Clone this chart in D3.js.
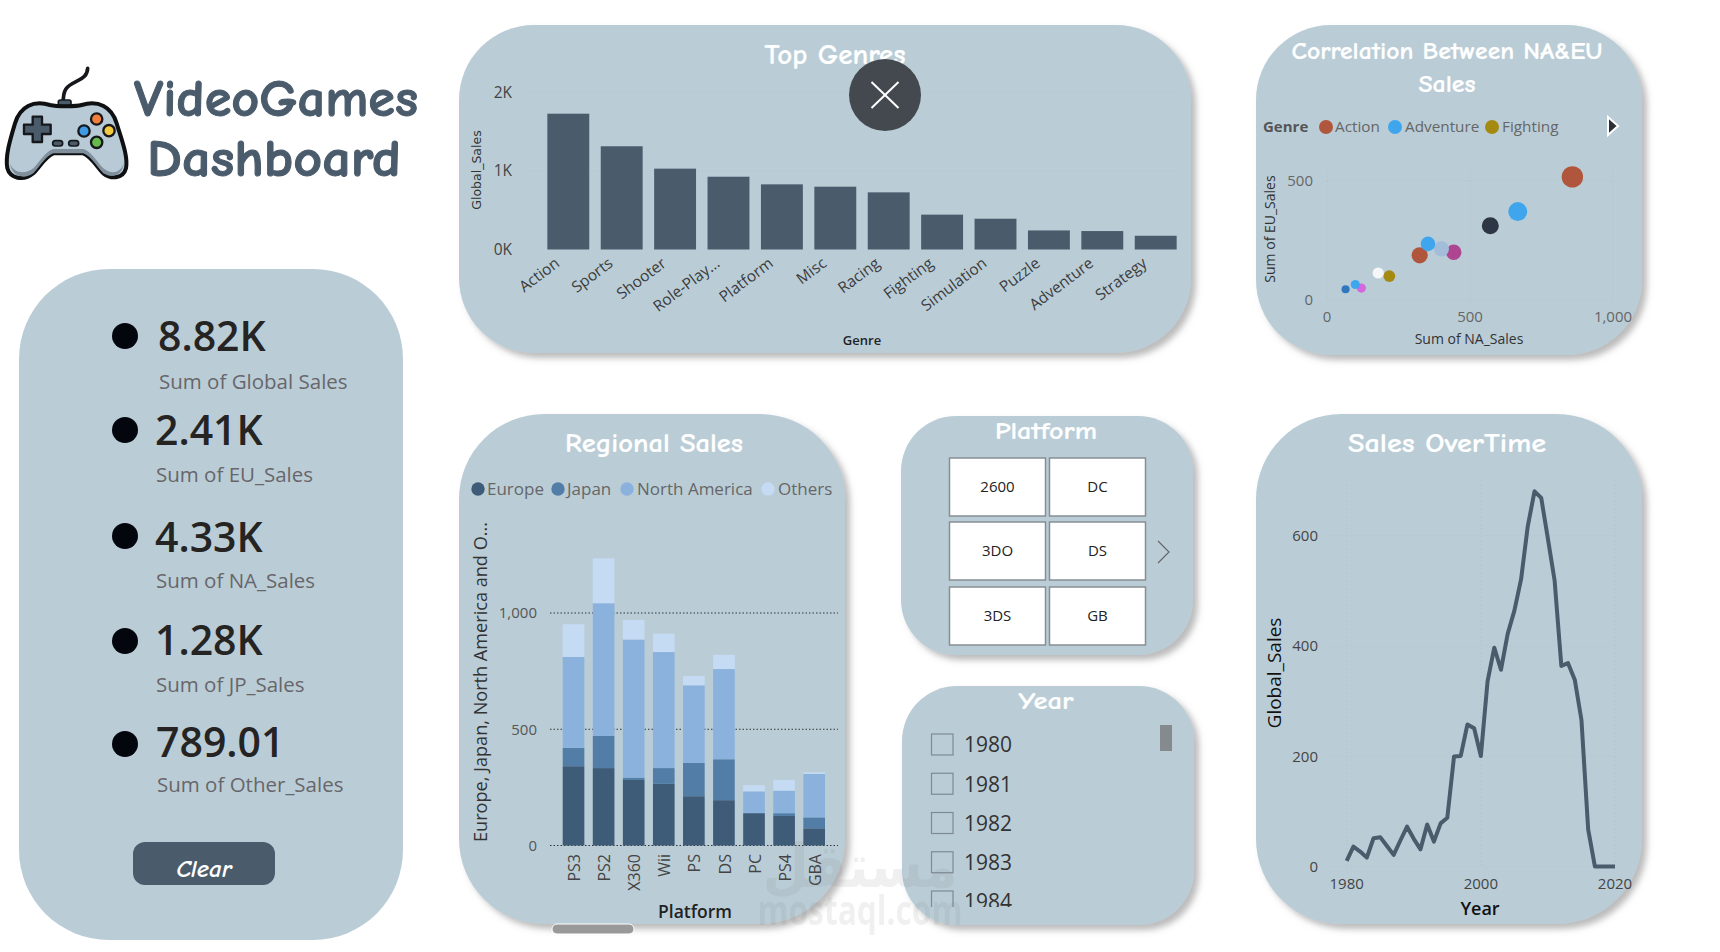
<!DOCTYPE html>
<html>
<head>
<meta charset="utf-8">
<title>VideoGames Dashboard</title>
<script src="https://cdn.jsdelivr.net/npm/d3@7"></script>
<style>
  html, body { margin: 0; padding: 0; background: #fff; overflow: hidden; }
  svg { display: block; }
  text { font-family: "Open Sans", "Noto Sans", sans-serif; }
  .hand { font-family: "Comic Sans MS", "Comic Neue", "Lato", sans-serif; font-weight: 700; }
</style>
</head>
<body>
<svg id="board" width="1720" height="952"></svg>
<script>
// KPI cards
const kpiValues = ["8.82K", "2.41K", "4.33K", "1.28K", "789.01"];
const kpiLabels = ["Sum of Global Sales", "Sum of EU_Sales", "Sum of NA_Sales", "Sum of JP_Sales", "Sum of Other_Sales"];

// Top Genres
const genres = ["Action", "Sports", "Shooter", "Role-Play...", "Platform", "Misc", "Racing", "Fighting", "Simulation", "Puzzle", "Adventure", "Strategy"];
const genreSales = [1730, 1315, 1030, 927, 830, 800, 728, 444, 392, 243, 235, 175];

// Correlation, same genre order as above
const genreNA = [858, 667, 571, 324, 443, 400, 353, 218, 179, 120, 99, 65];
const genreEU = [515, 370, 311, 187, 200, 214, 235, 100, 113, 50, 65, 45];
const genreColors = ["#b0563c", "#3fa6ee", "#2c3644", "#b0563c", "#ae4590", "#a3bcd9", "#3fa6ee", "#a58a12", "#f4f6f7", "#d468e0", "#3fa6ee", "#2f78bd"];
const bubbleLegend = ["Action", "Adventure", "Fighting"];
const bubbleLegendColors = ["#b0563c", "#3fa6ee", "#a58a12"];

// Regional Sales
const platforms = ["PS3", "PS2", "X360", "Wii", "PS", "DS", "PC", "PS4", "GBA"];
const regions = ["Europe", "Japan", "North America", "Others"];
const regionColors = ["#3e5b77", "#527da6", "#8ab2dd", "#c5dbf3"];
const europeSales = [341, 333, 282, 265, 212, 195, 139, 127, 74];
const japanSales = [79, 138, 10, 68, 143, 176, 1, 12, 47];
const northAmericaSales = [391, 571, 594, 499, 334, 388, 93, 97, 187];
const otherSales = [141, 193, 84, 79, 40, 61, 26, 46, 7];

// Slicers
const platformButtons = ["2600", "DC", "3DO", "DS", "3DS", "GB"];
const yearOptions = ["1980", "1981", "1982", "1983", "1984"];

// Sales over time
const years = d3.range(1980, 2021);
const yearSales = [11, 37, 28, 17, 52, 54, 38, 22, 48, 73, 51, 32, 77, 46, 79, 89, 200, 201, 258, 251, 201, 336, 397, 357, 422, 464, 521, 617, 680, 668, 594, 518, 364, 369, 339, 266, 68, 1, 1, 1, 1];

const panelFill = "#bacdd7";
const darkSlate = "#4a5b6c";
const faintGrid = "#aab9c4";
const svg = d3.select("#board");

const defs = svg.append("defs");
const shadow = defs.append("filter").attr("id", "shadow")
  .attr("x", "-10%").attr("y", "-10%").attr("width", "125%").attr("height", "125%");
shadow.append("feDropShadow").attr("dx", 5).attr("dy", 5).attr("stdDeviation", 3)
  .attr("flood-color", "#777").attr("flood-opacity", 0.5);

function panel(x0, y0, x1, y1, r, withShadow = true) {
  const p = svg.append("rect")
    .attr("x", x0).attr("y", y0)
    .attr("width", x1 - x0).attr("height", y1 - y0)
    .attr("rx", r).attr("ry", r)
    .attr("fill", panelFill);
  if (withShadow) p.attr("filter", "url(#shadow)");
}

function label(g, x, y, txt, size, color, anchor = "start", weight = 400) {
  return g.append("text")
    .attr("x", x).attr("y", y)
    .attr("dy", "0.35em")
    .attr("text-anchor", anchor)
    .attr("font-size", size)
    .attr("font-weight", weight)
    .attr("fill", color)
    .text(txt);
}

function title(x, y, txt, size, width) {
  return svg.append("text").attr("class", "hand")
    .attr("x", x).attr("y", y).attr("dy", "0.35em")
    .attr("text-anchor", "middle")
    .attr("font-size", size)
    .attr("fill", "#fff")
    .attr("stroke", "#fff").attr("stroke-width", 0.2)
    .attr("textLength", width).attr("lengthAdjust", "spacingAndGlyphs")
    .text(txt);
}

function rotated(g, x, y, txt, size, color, weight = 400, family = null) {
  const t = g.append("text")
    .attr("transform", `translate(${x},${y}) rotate(-90)`)
    .attr("dy", "0.35em")
    .attr("text-anchor", "middle")
    .attr("font-size", size)
    .attr("font-weight", weight)
    .attr("fill", color)
    .text(txt);
  if (family) t.style("font-family", family);
  return t;
}

panel(19, 269, 403, 940, 90, false);
panel(459, 25, 1191, 353, 75);
panel(1256, 25, 1642, 355, 75);
panel(459, 414, 845, 924, 85);
panel(901, 416, 1193, 655, 55);
panel(902, 686, 1194, 925, 55);
panel(1256, 414, 1642, 924, 85);

// ---- Logo ----
const logo = svg.append("g");
const pad = logo.append("g").attr("transform", "scale(0.3333)");
pad.append("path")
  .attr("d", "M190,310 C188,270 200,258 228,245 C250,235 262,225 263,205")
  .attr("fill", "none").attr("stroke", "#16181b").attr("stroke-width", 11).attr("stroke-linecap", "round");
pad.append("rect").attr("x", 175).attr("y", 300).attr("width", 38).attr("height", 22).attr("rx", 6)
  .attr("fill", darkSlate).attr("stroke", "#16181b").attr("stroke-width", 5);
pad.append("path")
  .attr("d", "M150,315 C100,300 60,320 45,370 C30,420 15,470 22,505 C30,535 70,545 100,520 C120,500 135,470 160,460 L250,460 C275,470 290,500 310,520 C335,540 370,535 378,505 C385,470 365,420 350,370 C335,320 295,300 245,315 C230,320 170,320 150,315 Z")
  .attr("fill", "#b7cad6").attr("stroke", "#0f1012").attr("stroke-width", 12);
pad.append("path")
  .attr("d", "M30,490 C40,520 75,525 100,505 C120,485 135,455 160,447 L250,447 C275,455 290,485 310,505 C335,525 360,520 372,490 C365,530 335,535 310,520 C290,500 275,470 250,460 L160,460 C135,470 120,500 100,520 C70,540 35,530 30,490 Z")
  .attr("fill", "#7f8f9b");
pad.append("path")
  .attr("d", "M98,350 h28 v24 h26 v28 h-26 v24 h-28 v-24 h-26 v-28 h26 Z")
  .attr("fill", darkSlate).attr("stroke", "#16181b").attr("stroke-width", 7).attr("stroke-linejoin", "round");
[[173, 430], [221, 430]].forEach(d => {
  pad.append("rect").attr("x", d[0] - 15).attr("y", d[1] - 8).attr("width", 30).attr("height", 16).attr("rx", 8)
    .attr("fill", darkSlate).attr("stroke", "#16181b").attr("stroke-width", 5);
});
[[290, 357, "#f07f3c"], [252, 393, "#3f9be3"], [327, 392, "#f3c93f"], [290, 427, "#66bb4c"]].forEach(d => {
  pad.append("circle").attr("cx", d[0]).attr("cy", d[1]).attr("r", 17)
    .attr("fill", d[2]).attr("stroke", "#16181b").attr("stroke-width", 7);
});
svg.append("text").attr("class", "hand").attr("x", 134).attr("y", 116)
  .attr("font-size", 52).attr("fill", darkSlate).attr("stroke", darkSlate).attr("stroke-width", 1)
  .attr("textLength", 284).attr("lengthAdjust", "spacingAndGlyphs").text("VideoGames");
svg.append("text").attr("class", "hand").attr("x", 147).attr("y", 176)
  .attr("font-size", 52).attr("fill", darkSlate).attr("stroke", darkSlate).attr("stroke-width", 1)
  .attr("textLength", 254).attr("lengthAdjust", "spacingAndGlyphs").text("Dashboard");

// ---- KPI column ----
const kpiDotY = [336, 430, 536, 641, 744];
const kpiTextX = [158, 155, 155, 155, 156];
const kpiValueY = [337, 431, 538, 641, 743];
const kpiLabelY = [382, 475, 581, 685, 785];
const kpi = svg.append("g");
kpiValues.forEach((v, i) => {
  kpi.append("circle").attr("cx", 125).attr("cy", kpiDotY[i]).attr("r", 13).attr("fill", "#03060c");
  label(kpi, kpiTextX[i], kpiValueY[i], v, 41, "#252423", "start", 600);
  label(kpi, kpiTextX[i] + 1, kpiLabelY[i], kpiLabels[i], 20.5, "#68666a");
});
svg.append("rect").attr("x", 133).attr("y", 842).attr("width", 142).attr("height", 43).attr("rx", 12).attr("fill", darkSlate);
svg.append("text").attr("class", "hand").attr("x", 204).attr("y", 868).attr("dy", "0.35em")
  .attr("text-anchor", "middle").attr("font-size", 25).attr("font-style", "italic").attr("fill", "#fff").text("Clear");

// ---- Top Genres ----
title(835, 54, "Top Genres", 28, 141);
const genreG = svg.append("g");
const gx = d3.scaleBand().domain(genres).range([542, 1182]).paddingInner(0.215).paddingOuter(0.1);
const gy = d3.scaleLinear().domain([0, 2000]).range([249.5, 92.5]);
genreG.selectAll("line.grid").data(gy.ticks(2).slice(1)).join("line").attr("class", "grid")
  .attr("x1", 530).attr("x2", 1182).attr("y1", d => gy(d)).attr("y2", d => gy(d))
  .attr("stroke", faintGrid).attr("stroke-opacity", 0.6).attr("stroke-dasharray", "1 3");
genreG.selectAll("rect").data(genres).join("rect")
  .attr("x", d => gx(d)).attr("width", gx.bandwidth())
  .attr("y", (d, i) => gy(genreSales[i]))
  .attr("height", (d, i) => gy(0) - gy(genreSales[i]))
  .attr("fill", darkSlate);
gy.ticks(2).forEach(t => label(genreG, 512, gy(t), (t / 1000) + "K", 15.5, "#444", "end"));
genreG.selectAll("text.cat").data(genres).join("text").attr("class", "cat")
  .attr("transform", d => `translate(${gx(d) + gx.bandwidth() / 2 - 11},${261}) rotate(-37)`)
  .attr("text-anchor", "end").attr("dy", "0.35em")
  .attr("font-size", 15.5).attr("fill", "#3c3c3c").text(d => d);
rotated(genreG, 477, 170, "Global_Sales", 12.5, "#333", 400, '"DejaVu Sans"');
label(genreG, 862, 340, "Genre", 13, "#222", "middle", 600);

// close button on top of the title
svg.append("circle").attr("cx", 885).attr("cy", 95).attr("r", 36).attr("fill", "#44494f");
svg.append("path").attr("d", d3.line()([[871.5, 82], [898.5, 108]])).attr("stroke", "#fff").attr("stroke-width", 2);
svg.append("path").attr("d", d3.line()([[898.5, 82], [871.5, 108]])).attr("stroke", "#fff").attr("stroke-width", 2);

// ---- Correlation ----
title(1447, 51, "Correlation Between NA&EU", 24, 311);
title(1447, 84, "Sales", 24, 57);
const corr = svg.append("g");
const cx = d3.scaleLinear().domain([0, 1000]).range([1327, 1613]);
const cy = d3.scaleLinear().domain([0, 500]).range([300, 180.5]);
const cr = d3.scaleSqrt().domain([0, 1730]).range([1, 10.7]);
[0, 500, 1000].forEach(t => {
  corr.append("line").attr("x1", cx(t)).attr("x2", cx(t)).attr("y1", 165).attr("y2", 300)
    .attr("stroke", faintGrid).attr("stroke-opacity", 0.6).attr("stroke-dasharray", "1 3");
  label(corr, cx(t), 317, d3.format(",")(t), 15, "#666", "middle");
});
[0, 500].forEach(t => {
  corr.append("line").attr("x1", 1327).attr("x2", 1613).attr("y1", cy(t)).attr("y2", cy(t))
    .attr("stroke", faintGrid).attr("stroke-opacity", 0.6).attr("stroke-dasharray", "1 3");
  label(corr, 1313, cy(t), t, 15, "#666", "end");
});
corr.selectAll("circle").data(genres).join("circle")
  .attr("cx", (d, i) => cx(genreNA[i]))
  .attr("cy", (d, i) => cy(genreEU[i]))
  .attr("r", (d, i) => cr(genreSales[i]))
  .attr("fill", (d, i) => genreColors[i]);
label(corr, 1263, 127, "Genre", 15, "#555", "start", 700);
const bubbleCircleX = [1326, 1395, 1492];
const bubbleTextX = [1335, 1405, 1502];
bubbleLegend.forEach((d, i) => {
  corr.append("circle").attr("cx", bubbleCircleX[i]).attr("cy", 127).attr("r", 7).attr("fill", bubbleLegendColors[i]);
  label(corr, bubbleTextX[i], 127, d, 15.3, "#666");
});
corr.append("path").attr("d", "M1608,117 L1618,126 L1608,135 Z").attr("fill", "#2b2f36").attr("stroke", "#fff").attr("stroke-width", 2);
rotated(corr, 1270, 229, "Sum of EU_Sales", 14, "#333");
label(corr, 1469, 339, "Sum of NA_Sales", 14, "#333", "middle");

// ---- Regional Sales ----
title(654, 443, "Regional Sales", 27, 178);
const reg = svg.append("g");
const rx = d3.scaleBand().domain(platforms).range([562.7, 825]).paddingInner(0.28).paddingOuter(0);
const ry = d3.scaleLinear().domain([0, 1000]).range([845.5, 613]);
const regionValues = [europeSales, japanSales, northAmericaSales, otherSales];
const stackRows = platforms.map((p, i) => {
  const row = { platform: p };
  regions.forEach((r, j) => { row[r] = regionValues[j][i]; });
  return row;
});
const stacked = d3.stack().keys(regions)(stackRows);
[0, 500, 1000].forEach(t => {
  reg.append("line").attr("x1", 550).attr("x2", 838).attr("y1", ry(t)).attr("y2", ry(t))
    .attr("stroke", "#333").attr("stroke-dasharray", "1.5 2");
  label(reg, 537, ry(t), d3.format(",")(t), 15, "#555", "end");
});
stacked.forEach((layer, j) => {
  reg.append("g").selectAll("rect").data(layer).join("rect")
    .attr("x", d => rx(d.data.platform))
    .attr("width", rx.bandwidth())
    .attr("y", d => ry(d[1]))
    .attr("height", d => ry(d[0]) - ry(d[1]))
    .attr("fill", regionColors[j]);
});
platforms.forEach(p => {
  reg.append("text")
    .attr("transform", `translate(${rx(p) + rx.bandwidth() / 2 + 1},854) rotate(-90)`)
    .attr("text-anchor", "end").attr("dy", "0.35em")
    .attr("font-size", 16).attr("fill", "#444").text(p);
});
const regionCircleX = [478, 558, 627, 768];
const regionTextX = [487, 567, 637, 778];
regions.forEach((d, i) => {
  reg.append("circle").attr("cx", regionCircleX[i]).attr("cy", 489).attr("r", 6.7).attr("fill", regionColors[i]);
  label(reg, regionTextX[i], 489, d, 17, "#666");
});
rotated(reg, 480, 682, "Europe, Japan, North America and O...", 19, "#333")
  .attr("textLength", 320).attr("lengthAdjust", "spacingAndGlyphs");
label(reg, 695, 912, "Platform", 17.5, "#222", "middle", 600);
svg.append("rect").attr("x", 552).attr("y", 924).attr("width", 82).attr("height", 10).attr("rx", 5)
  .attr("fill", "#999").attr("stroke", "#fff").attr("stroke-width", 1);

// ---- Platform slicer ----
title(1046, 430, "Platform", 25, 102);
const colX = [949.5, 1049.5];
const rowY = [458, 522, 587];
const btn = svg.append("g");
platformButtons.forEach((d, i) => {
  const c = i % 2, r = Math.floor(i / 2);
  btn.append("rect").attr("x", colX[c]).attr("y", rowY[r]).attr("width", 96).attr("height", 58)
    .attr("fill", "#fff").attr("stroke", "#868e94").attr("stroke-width", 1.5);
  label(btn, colX[c] + 48, rowY[r] + 29, d, 15, "#222", "middle");
});
btn.append("path").attr("d", "M1158,541 L1169,552 L1158,563").attr("fill", "none").attr("stroke", "#666").attr("stroke-width", 1.2);

// ---- Year slicer ----
title(1046, 700, "Year", 25, 55);
defs.append("clipPath").attr("id", "yearClip").append("rect").attr("x", 920).attr("y", 720).attr("width", 260).attr("height", 187);
const yr = svg.append("g").attr("clip-path", "url(#yearClip)");
const rowScale = d3.scalePoint().domain(yearOptions).range([745, 902]);
yearOptions.forEach(d => {
  yr.append("rect").attr("x", 931.5).attr("y", rowScale(d) - 11).attr("width", 21.5).attr("height", 21)
    .attr("fill", "none").attr("stroke", "#7f8a92").attr("stroke-width", 1.2);
  label(yr, 964, rowScale(d), d, 21, "#333");
});
svg.append("rect").attr("x", 1160).attr("y", 725).attr("width", 12).attr("height", 26).attr("fill", "#858a8e");

// ---- Sales over time ----
title(1447, 443, "Sales OverTime", 27, 198);
const line = svg.append("g");
const tx = d3.scaleLinear().domain([1980, 2020]).range([1346.7, 1615]);
const ty = d3.scaleLinear().domain([0, 600]).range([867, 535.5]);
[1980, 2000, 2020].forEach(t => {
  line.append("line").attr("x1", tx(t)).attr("x2", tx(t)).attr("y1", 480).attr("y2", 867)
    .attr("stroke", faintGrid).attr("stroke-opacity", 0.5).attr("stroke-dasharray", "1 3");
  label(line, tx(t), 884, t, 15, "#444", "middle");
});
[0, 200, 400, 600].forEach(t => {
  line.append("line").attr("x1", 1330).attr("x2", 1615).attr("y1", ty(t)).attr("y2", ty(t))
    .attr("stroke", faintGrid).attr("stroke-opacity", 0.5).attr("stroke-dasharray", "1 3");
  label(line, 1318, ty(t), t, 15, "#444", "end");
});
line.append("path")
  .attr("d", d3.line().x((d, i) => tx(years[i])).y(d => ty(d))(yearSales))
  .attr("fill", "none").attr("stroke", darkSlate).attr("stroke-width", 4).attr("stroke-linejoin", "round");
rotated(line, 1274, 673, "Global_Sales", 19, "#111", 500);
label(line, 1480, 909, "Year", 18, "#111", "middle", 600);

// ---- Watermark on top of everything, very faint ----
const mark = svg.append("g").attr("opacity", 0.09).attr("fill", "#666").style("pointer-events", "none");
mark.append("text").attr("x", 860).attr("y", 925).attr("text-anchor", "middle")
  .attr("font-size", 42).attr("font-weight", 700)
  .attr("textLength", 205).attr("lengthAdjust", "spacingAndGlyphs").text("mostaql.com");
mark.append("text").attr("x", 860).attr("y", 887).attr("text-anchor", "middle")
  .style("font-family", '"DejaVu Sans"').attr("font-size", 60).attr("font-weight", 700)
  .attr("textLength", 195).attr("lengthAdjust", "spacingAndGlyphs").text("مستقل");
</script>
</body>
</html>
